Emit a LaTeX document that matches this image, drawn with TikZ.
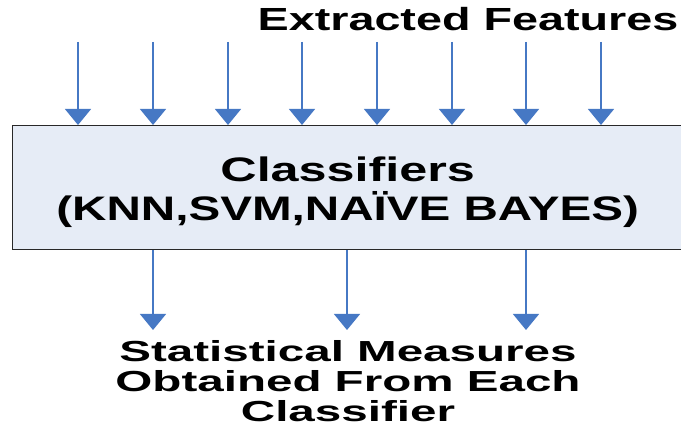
\documentclass[tikz,border=0pt]{standalone}
\usepackage{fontspec}
\setmainfont{Liberation Sans}
\usetikzlibrary{arrows.meta}
\definecolor{arrowblue}{RGB}{70,120,196}
\definecolor{boxfill}{RGB}{230,236,246}
\definecolor{boxedge}{RGB}{40,40,40}
\tikzset{
  flow/.style={draw=arrowblue, line width=1.3pt, -{Triangle[width=26pt,length=16pt]}, color=arrowblue},
  clsbox/.style={draw=boxedge, fill=boxfill, line width=1.4pt, inner sep=0pt, align=center,
                 font=\bfseries\fontsize{34}{34}\selectfont},
  label/.style={inner sep=0pt, align=center, font=\bfseries}
}
\newcommand{\wide}[2]{\scalebox{#1}[1]{#2}}
\begin{document}
\begin{tikzpicture}[x=1pt,y=-1pt]
\useasboundingbox (0,0) rectangle (681,430);
\fill[white] (0,0) rectangle (681,430);
\node[clsbox, minimum width=670pt, minimum height=124pt, anchor=north west] (cls) at (12,125)
  {\raisebox{-6pt}[\height][\depth]{\begin{tabular}{@{}c@{}}\wide{1.48}{Classifiers}\\\wide{1.4}{(KNN,SVM,NAÏVE BAYES)}\end{tabular}}};
\node[label, anchor=base, font=\bfseries\fontsize{32}{34}\selectfont] (feat) at (468,31) {\wide{1.46}{Extracted Features}};
\node[label, anchor=north, font=\bfseries\fontsize{29}{30}\selectfont] (meas) at (348,340)
  {\wide{1.64}{Statistical Measures}\\\wide{1.64}{Obtained From Each}\\\wide{1.64}{Classifier}};
\foreach \i/\x in {1/78,2/153,3/228,4/302,5/377,6/452,7/526,8/601}{
  \coordinate (t\i) at (\x,42);
  \draw[flow] (t\i) -- (t\i |- cls.north);
}
\foreach \i/\x in {1/153,2/347,3/526}{
  \coordinate (b\i) at (\x,330);
  \draw[flow] (cls.south -| b\i) -- (b\i);
}
\end{tikzpicture}
\end{document}
